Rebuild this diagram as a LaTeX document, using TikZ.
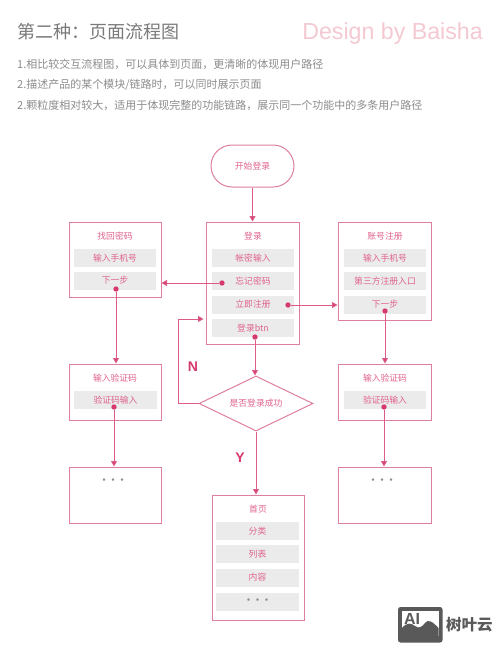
\documentclass[tikz,border=0pt]{standalone}
\usepackage{fontspec}
\setmainfont{Liberation Sans}
\newfontfamily\cjk{Noto Sans CJK SC}
\usetikzlibrary{arrows.meta,shapes.geometric,shapes.misc}
\definecolor{frameline}{HTML}{DE7F9E}
\definecolor{linkline}{HTML}{DC5C86}
\definecolor{dotred}{HTML}{D63A6C}
\definecolor{labelpink}{HTML}{E0638C}
\definecolor{itemgray}{HTML}{EBEBEB}
\definecolor{titlegray}{HTML}{7A7A7A}
\definecolor{bodygray}{HTML}{8C8C8C}
\definecolor{brandpink}{HTML}{F4C9D1}
\definecolor{markgray}{HTML}{595959}
\tikzset{
  pagebox/.style 2 args={draw=frameline,line width=1pt,fill=white,inner sep=0pt,minimum width=#1,minimum height=#2},
  headtext/.style={font=\cjk\fontsize{8.8}{11}\selectfont,text=labelpink,inner sep=0pt},
  itembar/.style={fill=itemgray,inner sep=0pt,minimum width=82.5pt,minimum height=18pt,
    font=\cjk\fontsize{8.8}{11}\selectfont,text=labelpink},
  dotlabel/.style={font=\cjk\bfseries\fontsize{9}{11}\selectfont,text=bodygray,inner sep=0pt},
  linkdot/.style={circle,fill=dotred,inner sep=0pt,minimum size=5.4pt},
  link/.style={draw=linkline,line width=1pt,-{Triangle[length=5.5pt,width=6pt,fill=dotred]}},
  bodyline/.style={anchor=west,inner sep=0pt,font=\cjk\fontsize{11}{13}\selectfont,text=bodygray},
  branch/.style={font=\bfseries\fontsize{14}{16}\selectfont,text=dotred,inner sep=0pt}
}
\begin{document}
\begin{tikzpicture}[x=1pt,y=-1pt]
\useasboundingbox (0,0) rectangle (500,653);
\fill[white] (0,0) rectangle (500,653);
% header
\node[anchor=west,inner sep=0pt,font=\cjk\fontsize{18}{20}\selectfont,text=titlegray] (title) at (17,32) {第二种：页面流程图};
\node[anchor=east,inner sep=0pt,font=\fontsize{23.2}{26}\selectfont,text=brandpink] (brand) at (483,33.5) {Design by Baisha};
\node[bodyline] (line1) at (17,64.5) {1.相比较交互流程图，可以具体到页面，更清晰的体现用户路径};
\node[bodyline] (line2) at (17,84.5) {2.描述产品的某个模块/链路时，可以同时展示页面};
\node[bodyline] (line3) at (17,105) {2.颗粒度相对较大，适用于体现完整的功能链路，展示同一个功能中的多条用户路径};
% start
\node[draw=frameline,line width=1pt,rounded rectangle,minimum width=83pt,minimum height=42pt,inner sep=0pt,headtext] (start) at (252.5,166) {开始登录};
% boxes
\node[pagebox={93pt}{122pt}] (login) at (252.5,283) {};
\node[pagebox={92pt}{75pt}] (find) at (115,259.5) {};
\node[pagebox={93pt}{98pt}] (reg) at (384.5,271) {};
\node[pagebox={92pt}{56pt}] (vleft) at (115,392) {};
\node[pagebox={93pt}{56pt}] (vright) at (384.5,392) {};
\node[pagebox={92pt}{56pt}] (dleft) at (115,495) {};
\node[pagebox={93pt}{56pt}] (dright) at (384.5,495) {};
\node[pagebox={92pt}{125pt}] (home) at (258,557.5) {};
% login
\node[headtext] (loginT) at (253,236.5) {登录};
\node[itembar] (l1) at (253,258) {帐密输入};
\node[itembar] (l2) at (253,281) {忘记密码};
\node[itembar] (l3) at (253,304.5) {立即注册};
\node[itembar] (l4) at (253,328) {登录btn};
% find
\node[headtext] (findT) at (115,236.5) {找回密码};
\node[itembar] (f1) at (115,258) {输入手机号};
\node[itembar] (f2) at (115,280.5) {下一步};
% register
\node[headtext] (regT) at (385,236.5) {账号注册};
\node[itembar] (r1) at (385,258) {输入手机号};
\node[itembar] (r2) at (385,281) {第三方注册入口};
\node[itembar] (r3) at (385,304.5) {下一步};
% verify
\node[headtext] (vlT) at (115,378.5) {输入验证码};
\node[itembar] (vl) at (115.5,400) {验证码输入};
\node[headtext] (vrT) at (385,378.5) {输入验证码};
\node[itembar] (vr) at (385,400) {验证码输入};
% dots boxes
\node[dotlabel] (dlT) at (113,481) {···};
\node[dotlabel] (drT) at (382,481) {···};
% home
\node[headtext] (homeT) at (258,509.5) {首页};
\node[itembar] (h1) at (257.5,531) {分类};
\node[itembar] (h2) at (257.5,554) {列表};
\node[itembar] (h3) at (257.5,577.5) {内容};
\node[itembar,font=\cjk\bfseries\fontsize{9}{11}\selectfont,text=bodygray] (h4) at (257.5,601.5) {···};
% decision
\node[draw=frameline,line width=1pt,diamond,aspect=2.07,minimum width=114pt,minimum height=55pt,inner sep=0pt,headtext,fill=white] (dec) at (256,403.5) {是否登录成功};
\node[branch] (nlabel) at (193,367) {N};
\node[branch] (ylabel) at (240,458) {Y};
% dots
\node[linkdot] (d1) at (222,283) {};
\node[linkdot] (d2) at (288,305) {};
\node[linkdot] (d3) at (255,337) {};
\node[linkdot] (d4) at (116,289) {};
\node[linkdot] (d5) at (114,407) {};
\node[linkdot] (d6) at (385,311) {};
\node[linkdot] (d7) at (384,407) {};
\coordinate (backCorner) at (178,319);
\coordinate (backEnd) at (203.5,319);
% connectors
\draw[link] (start.south) -- (start.south |- login.north);
\draw[link] (d1) -- (d1 -| find.east);
\draw[link] (d2) -- (d2 -| reg.west);
\draw[link] (d3) -- (d3 |- dec.north);
\draw[link] (d4) -- (d4 |- vleft.north);
\draw[link] (d5) -- (d5 |- dleft.north);
\draw[link] (d6) -- (d6 |- vright.north);
\draw[link] (d7) -- (d7 |- dright.north);
\draw[link] (dec.south) -- (dec.south |- home.north);
\draw[link] (dec.west) -| (backCorner) -- (backEnd);
% watermark
\fill[markgray,rounded corners=2.5pt] (398,607) rectangle (442.5,642.5);
\fill[white] (402,611) rectangle (438.5,636);
\fill[markgray] (402,636) -- (402,628) .. controls (407,622) and (411,623) .. (415,626) .. controls (419,629) and (422,627) .. (425,623) .. controls (428,619) and (432,621) .. (438.5,628) -- (438.5,636) -- cycle;
\node[inner sep=0pt,font=\bfseries\fontsize{16}{18}\selectfont,text=markgray] (ai) at (412,619) {AI};
\node[anchor=west,inner sep=0pt,font=\cjk\bfseries\fontsize{15.5}{17}\selectfont,text=markgray] (shuye) at (446,625) {树叶云};
\end{tikzpicture}
\end{document}
